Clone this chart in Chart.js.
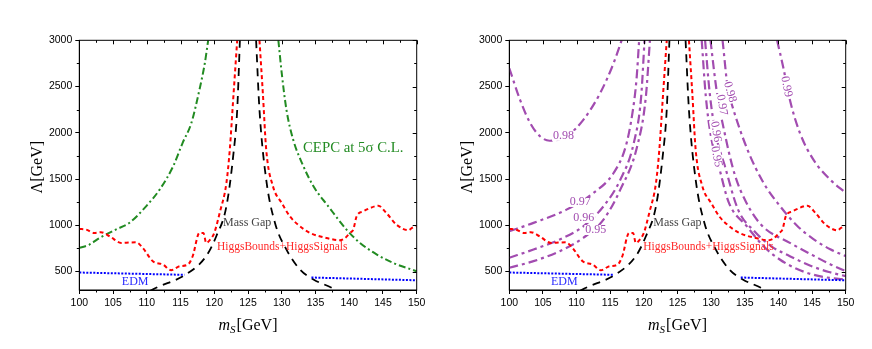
<!DOCTYPE html>
<html>
<head>
<meta charset="utf-8">
<script src="https://cdn.jsdelivr.net/npm/chart.js@4.4.0/dist/chart.umd.min.js"></script>
<style>
  body { margin: 0; background: #fff; }
  #wrap { position: relative; width: 872px; height: 349px; }
  canvas { position: absolute; top: 0; }
</style>
</head>
<body>
<div id="wrap">
  <canvas id="leftChart" width="436" height="349" style="left:0"></canvas>
  <canvas id="rightChart" width="436" height="349" style="left:436px"></canvas>
</div>
<script>
// axis ticks
const xTicks = [100, 105, 110, 115, 120, 125, 130, 135, 140, 145, 150];
const yTicks = [500, 1000, 1500, 2000, 2500, 3000];

// [mS, Lambda] pairs
const massGapLeft = [[110.5, 290], [111.4, 324], [115.8, 468], [118.8, 666], [120.3, 881], [121.8, 1205], [122.8, 1745], [123.4, 2248], [123.8, 3000]];
const massGapRight = [[126.2, 3000], [126.7, 2248], [127.7, 1493], [129, 1025], [130.7, 737], [132.7, 522], [134.7, 414], [137.4, 324], [138.2, 290]];

const hbLeft = [[100, 960], [101, 953], [102.2, 917], [103.2, 925], [104.5, 881], [106.2, 809], [108.4, 816], [109.4, 755], [110.9, 611], [112.4, 575], [113.6, 514], [114.9, 557], [116.1, 575], [116.8, 665], [117.8, 917], [118.4, 917], [118.8, 809], [119.4, 845], [120, 917], [120.8, 1133], [121.8, 1457], [122.3, 1817], [122.8, 2356], [123.4, 3000]];
const hbRight = [[126.7, 3000], [127.2, 2428], [127.7, 1817], [128.7, 1421], [130, 1241], [131.2, 1097], [132.4, 1007], [134.2, 917], [136.6, 863], [138.6, 838], [139.4, 863], [140.1, 917], [140.6, 953], [141.1, 1097], [142.1, 1151], [143.8, 1205], [144.3, 1212], [145.5, 1133], [147, 1007], [148.8, 946], [149.3, 971], [150, 989]];

const cepcLeft = [[100, 755], [101.5, 791], [103, 863], [105.4, 953], [107.4, 1025], [109.9, 1205], [111.9, 1385], [113.9, 1637], [115.3, 1889], [116.6, 2104], [117.8, 2464], [118.6, 2752], [119.1, 3000]];
const cepcRight = [[129.5, 3000], [130, 2644], [130.7, 2248], [131.7, 1924], [133, 1673], [134.7, 1421], [136.9, 1205], [139.6, 953], [141.6, 809], [144.1, 683], [146.5, 593], [150, 503]];

const edmLeft = [[100, 489], [115.6, 464]];
const edmRight = [[134.4, 435], [150, 405]];

const c98Left = [[100, 2698], [101.6, 2356], [103.1, 2105], [104.6, 1960], [106, 1914], [108.5, 1960], [111, 2140], [113.5, 2428], [115.5, 2752], [116.7, 3000]];
const c97Left = [[100, 935], [103.6, 1026], [108.5, 1169], [112.5, 1349], [115.5, 1565], [117.3, 1852], [118.3, 2212], [118.9, 2572], [119.3, 3000]];
const c96Left = [[100, 648], [103.6, 738], [107.5, 846], [111, 989], [114, 1205], [116.5, 1493], [118.5, 1889], [119.6, 2392], [120.1, 3000]];
const c95Left = [[100, 541], [103.6, 612], [107.5, 720], [111, 864], [114, 1061], [116.5, 1385], [119, 1852], [120.3, 2392], [120.9, 3000]];
const c95Right = [[128.6, 3000], [129.2, 2400], [130, 1950], [131.2, 1620], [132.6, 1250], [135.3, 989], [137.8, 773], [140.2, 630], [142.7, 530], [145.2, 465], [147.7, 430], [150, 414]];
const c96Right = [[129.1, 3000], [129.8, 2420], [130.7, 1980], [132, 1650], [134, 1169], [136.5, 930], [139, 770], [141.7, 666], [144.5, 570], [147.5, 495], [150, 450]];
const c97Right = [[129.9, 3000], [130.8, 2464], [132, 2000], [133.5, 1550], [135.2, 1250], [137.5, 1000], [141.7, 810], [145, 680], [147.5, 585], [150, 504]];
const c98Right = [[131.7, 3000], [132.5, 2464], [133.1, 2300], [135.4, 1817], [137.8, 1457], [140.1, 1220], [142.7, 1000], [145.2, 850], [147.7, 740], [150, 666]];
const c99Right = [[139.8, 3000], [140.7, 2715], [141.7, 2356], [143.2, 1997], [145.2, 1709], [147.7, 1493], [150, 1350]];

const RED = '#ff0000', GREEN = '#228b22', BLUE = '#0000ff', PURPLE = '#a24cb0';

function curve(points, color, dash, width) {
    return {
        data: points.map(p => ({ x: p[0], y: p[1] })),
        showLine: true,
        borderColor: color,
        borderDash: dash,
        borderWidth: width,
        pointRadius: 0,
        fill: false,
        cubicInterpolationMode: 'monotone',
        clip: 0
    };
}

function common() {
    return [
        curve(edmLeft, BLUE, [2, 1.5], 2),
        curve(edmRight, BLUE, [2, 1.5], 2),
        curve(massGapLeft, '#000', [8, 6], 1.8),
        curve(massGapRight, '#000', [8, 6], 1.8),
        curve(hbLeft, RED, [4, 3], 2),
        curve(hbRight, RED, [4, 3], 2)
    ];
}

const leftNotes = [
    { text: 'CEPC at 5σ C.L.', x: 133.15, y: 1835, color: GREEN, size: 14.8 },
    { text: 'Mass Gap', x: 121.3, y: 1024, color: '#444', size: 12 },
    { text: 'HiggsBounds+HiggsSignals', x: 120.4, y: 765, color: '#ff2a2a', size: 11.5 },
    { text: 'EDM', x: 106.3, y: 386, color: '#2a2aff', size: 12 }
];
const rightNotes = [
    { text: 'Mass Gap', x: 121.4, y: 1024, color: '#444', size: 12 },
    { text: 'HiggsBounds+HiggsSignals', x: 119.9, y: 765, color: '#ff2a2a', size: 11.5 },
    { text: 'EDM', x: 106.2, y: 386, color: '#2a2aff', size: 12 },
    { text: '0.98', x: 106.5, y: 1967, color: PURPLE, size: 12, bg: true },
    { text: '0.97', x: 109.0, y: 1252, color: PURPLE, size: 12, bg: true },
    { text: '0.96', x: 109.5, y: 1079, color: PURPLE, size: 12, bg: true },
    { text: '0.95', x: 111.3, y: 949, color: PURPLE, size: 12, bg: true },
    { text: '0.99', x: 141.2, y: 2498, color: PURPLE, size: 12, bg: true, rot: 78, center: true },
    { text: '0.98', x: 132.8, y: 2440, color: PURPLE, size: 12, bg: true, rot: 74, center: true },
    { text: '0.97', x: 131.6, y: 2300, color: PURPLE, size: 12, bg: true, rot: 80, center: true },
    { text: '0.96', x: 130.7, y: 2012, color: PURPLE, size: 12, bg: true, rot: 80, center: true },
    { text: '0.95', x: 130.8, y: 1741, color: PURPLE, size: 12, bg: true, rot: 78, center: true }
];

const decor = {
    id: 'decor',
    afterDatasetsDraw(chart) {
        const { ctx, chartArea: a, scales: { x, y } } = chart;
        const notes = chart.canvas.id === 'leftChart' ? leftNotes : rightNotes;
        ctx.save();
        ctx.textBaseline = 'middle';
        notes.forEach(n => {
            ctx.save();
            ctx.font = n.size + 'px "Liberation Serif"';
            const w = ctx.measureText(n.text).width;
            ctx.translate(x.getPixelForValue(n.x), y.getPixelForValue(n.y));
            if (n.rot) ctx.rotate(n.rot * Math.PI / 180);
            const x0 = n.center ? -w / 2 : 0;
            if (n.bg) {
                ctx.fillStyle = '#fff';
                ctx.fillRect(x0 - 1, -n.size / 2 + 1, w + 2, n.size - 2);
            }
            ctx.fillStyle = n.color;
            ctx.fillText(n.text, x0, 0);
            ctx.restore();
        });

        // frame and minor / mirrored ticks
        ctx.strokeStyle = '#000';
        ctx.lineWidth = 1;
        ctx.strokeRect(a.left, a.top, a.right - a.left, a.bottom - a.top);
        ctx.beginPath();
        for (let v = 100; v <= 150; v += 2.5) {
            const px = Math.round(x.getPixelForValue(v)) + 0.5;
            const major = v % 5 === 0;
            const len = major ? 4 : 2.5;
            ctx.moveTo(px, a.top); ctx.lineTo(px, a.top + len);
            if (!major) { ctx.moveTo(px, a.bottom); ctx.lineTo(px, a.bottom + len); }
        }
        for (let v = 500; v <= 3000; v += 250) {
            const py = Math.round(y.getPixelForValue(v)) + 0.5;
            const major = v % 500 === 0;
            const len = major ? 4 : 2.5;
            ctx.moveTo(a.right, py); ctx.lineTo(a.right - len, py);
            if (!major) { ctx.moveTo(a.left, py); ctx.lineTo(a.left - len, py); }
        }
        ctx.stroke();

        // axis titles
        ctx.fillStyle = '#000';
        ctx.textBaseline = 'middle';
        ctx.textAlign = 'center';
        ctx.save();
        ctx.translate(a.left - 42, (a.top + a.bottom) / 2 + 2);
        ctx.rotate(-Math.PI / 2);
        ctx.font = '16px "Liberation Serif"';
        ctx.fillText('Λ[GeV]', 0, 0);
        ctx.restore();

        ctx.textAlign = 'left';
        ctx.textBaseline = 'alphabetic';
        const big = '16px "Liberation Serif"', small = 'italic 11px "Liberation Serif"';
        ctx.font = 'italic ' + big; const wm = ctx.measureText('m').width;
        ctx.font = small; const ws = ctx.measureText('S').width;
        ctx.font = big; const wg = ctx.measureText('[GeV]').width;
        let sx = (a.left + a.right) / 2 - (wm + ws + 1 + wg) / 2;
        const base = 330;
        ctx.font = 'italic ' + big; ctx.fillText('m', sx, base); sx += wm;
        ctx.font = small; ctx.fillText('S', sx, base + 3); sx += ws + 1;
        ctx.font = big; ctx.fillText('[GeV]', sx, base);
        ctx.restore();
    }
};

function makeChart(id, datasets, yWidth, padRight) {
    return new Chart(document.getElementById(id), {
        type: 'scatter',
        data: { datasets: datasets },
        options: {
            responsive: false,
            animation: false,
            devicePixelRatio: 1,
            layout: { padding: { left: 0, right: padRight, top: 40.3, bottom: 0 } },
            plugins: { legend: { display: false }, tooltip: { enabled: false } },
            scales: {
                x: {
                    type: 'linear', min: 100, max: 150,
                    afterBuildTicks: s => { s.ticks = xTicks.map(v => ({ value: v })); },
                    afterFit: s => { s.height = 59; },
                    grid: { drawOnChartArea: false, drawTicks: true, tickLength: 4, color: '#000' },
                    border: { display: true, color: '#000', width: 1 },
                    ticks: { color: '#000', padding: 3, maxRotation: 0, callback: v => String(v), font: { family: 'Liberation Sans', size: 10.5 } }
                },
                y: {
                    type: 'linear', min: 300, max: 3000,
                    afterBuildTicks: s => { s.ticks = yTicks.map(v => ({ value: v })); },
                    afterFit: s => { s.width = yWidth; },
                    grid: { drawOnChartArea: false, drawTicks: true, tickLength: 4, color: '#000' },
                    border: { display: true, color: '#000', width: 1 },
                    ticks: { color: '#000', padding: 3, callback: v => String(v), font: { family: 'Liberation Sans', size: 10.5 } }
                }
            }
        },
        plugins: [decor]
    });
}

const leftSets = common().concat([
    curve(cepcLeft, GREEN, [7, 3, 2, 3], 2),
    curve(cepcRight, GREEN, [7, 3, 2, 3], 2)
]);
const rightSets = common().concat([
    curve(c98Left, PURPLE, [9, 4, 3, 4], 2.2),
    curve(c97Left, PURPLE, [9, 4, 3, 4], 2.2),
    curve(c96Left, PURPLE, [9, 4, 3, 4], 2.2),
    curve(c95Left, PURPLE, [9, 4, 3, 4], 2.2),
    curve(c95Right, PURPLE, [9, 4, 3, 4], 2.2),
    curve(c96Right, PURPLE, [9, 4, 3, 4], 2.2),
    curve(c97Right, PURPLE, [9, 4, 3, 4], 2.2),
    curve(c98Right, PURPLE, [9, 4, 3, 4], 2.2),
    curve(c99Right, PURPLE, [9, 4, 3, 4], 2.2)
]);

makeChart('leftChart', leftSets, 79.3, 19.3);
makeChart('rightChart', rightSets, 73.3, 26.3);
</script>
</body>
</html>
